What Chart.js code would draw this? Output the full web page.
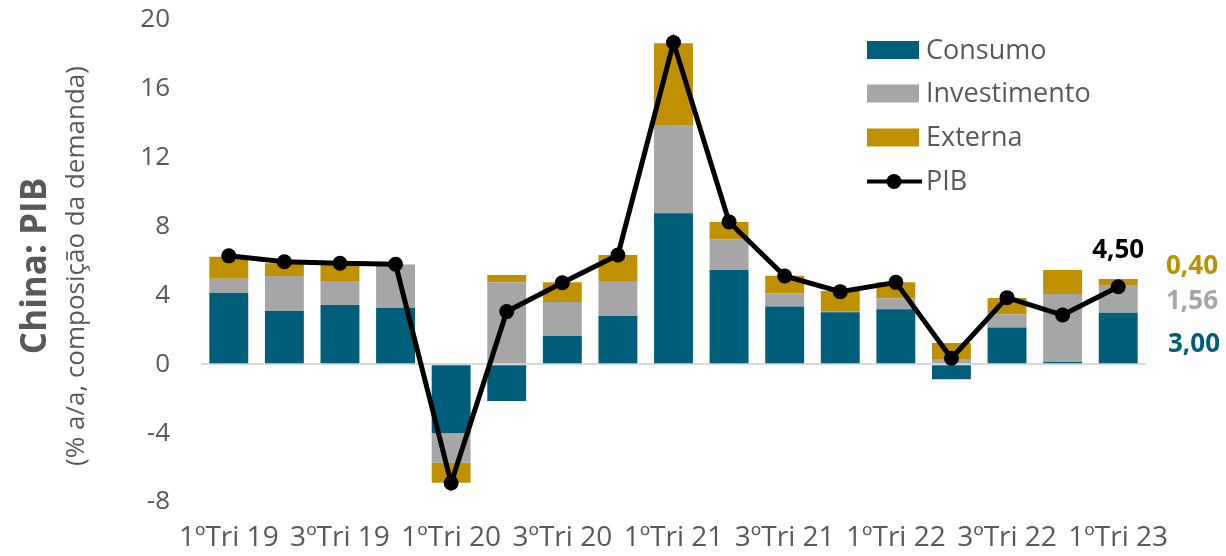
<!DOCTYPE html>
<html><head><meta charset="utf-8">
<script src="https://cdn.jsdelivr.net/npm/chart.js@4"></script>
<style>html,body{margin:0;padding:0;background:#fff}#wrap{width:1226px;height:556px;position:relative}</style>
</head><body><div id="wrap"><canvas id="c" width="1226" height="556"></canvas></div>
<script>
const categories = ['1ºTri 19','2ºTri 19','3ºTri 19','4ºTri 19','1ºTri 20','2ºTri 20','3ºTri 20','4ºTri 20','1ºTri 21','2ºTri 21','3ºTri 21','4ºTri 21','1ºTri 22','2ºTri 22','3ºTri 22','4ºTri 22','1ºTri 23'];
const consumo      = [4.14, 3.10, 3.45, 3.29, -4.01, -2.13, 1.64, 2.81, 8.77, 5.48, 3.35, 3.02, 3.19, -0.87, 2.13, 0.13, 3.00];
const investimento = [0.83, 2.03, 1.39, 2.50, -1.71, 4.76, 1.98, 2.03, 5.08, 1.78, 0.77, 0.08, 0.64, 0.27, 0.77, 3.95, 1.56];
const externa      = [1.28, 0.74, 1.03, 0.00, -1.16, 0.43, 1.14, 1.51, 4.80, 1.01, 1.03, 1.16, 0.93, 0.97, 0.95, 1.40, 0.40];
const pib          = [6.30, 5.96, 5.87, 5.81, -6.90, 3.06, 4.74, 6.35, 18.69, 8.27, 5.13, 4.22, 4.76, 0.35, 3.87, 2.86, 4.50];
const yTicks = [-8, -4, 0, 4, 8, 12, 16, 20];
const seriesNames = ['Consumo', 'Investimento', 'Externa', 'PIB'];
const lastLabels = ['4,50', '0,40', '1,56', '3,00'];

const TEAL = '#005E7A', GRAY = '#A6A6A6', GOLD = '#BF9000', TXT = '#595959';
const FONT = '"Open Sans", "Noto Sans", sans-serif';

const annot = {
  id: 'annot',
  afterDraw(chart) {
    const ctx = chart.ctx;
    const x = chart.scales.x, y = chart.scales.y;
    ctx.save();
    // axis titles
    ctx.fillStyle = TXT;
    ctx.textAlign = 'center';
    ctx.textBaseline = 'alphabetic';
    ctx.save(); ctx.translate(46, 266); ctx.rotate(-Math.PI / 2);
    ctx.font = 'bold 35px ' + FONT; ctx.fillText('China: PIB', 0, 0); ctx.restore();
    ctx.save(); ctx.translate(84, 266); ctx.rotate(-Math.PI / 2);
    ctx.font = '26px ' + FONT; ctx.fillText('(% a/a, composição da demanda)', 0, 0); ctx.restore();

    // legend
    const lx = 867, ly = [50, 93.5, 137.5, 181.5], cols = [TEAL, GRAY, GOLD];
    ctx.textAlign = 'left'; ctx.textBaseline = 'middle';
    ctx.font = '27px ' + FONT;
    for (let i = 0; i < 4; i++) {
      if (i < 3) {
        ctx.fillStyle = cols[i];
        ctx.fillRect(lx, ly[i] - 9, 52, 18);
      } else {
        ctx.strokeStyle = '#000'; ctx.lineWidth = 4;
        ctx.beginPath(); ctx.moveTo(lx, ly[i]); ctx.lineTo(lx + 55, ly[i]); ctx.stroke();
        ctx.fillStyle = '#000';
        ctx.beginPath(); ctx.arc(lx + 27, ly[i], 7.5, 0, Math.PI * 2); ctx.fill();
      }
      ctx.fillStyle = TXT;
      ctx.fillText(seriesNames[i], 926, ly[i] + 1);
    }

    // last values labels
    const n = categories.length - 1;
    const px = x.getPixelForValue(n);
    ctx.font = 'bold 26px ' + FONT;
    ctx.textAlign = 'center';
    ctx.fillStyle = '#000';
    ctx.fillText(lastLabels[0], px, y.getPixelForValue(pib[n]) - 36);
    ctx.textAlign = 'left';
    const rx = chart.chartArea.right + 20;
    const c = consumo[n], iv = investimento[n], ex = externa[n];
    ctx.fillStyle = GOLD;
    ctx.fillText(lastLabels[1], rx, y.getPixelForValue(c + iv + ex) - 12);
    ctx.fillStyle = GRAY;
    ctx.fillText(lastLabels[2], rx, y.getPixelForValue(c + iv / 2) + 2);
    ctx.fillStyle = TEAL;
    ctx.fillText(lastLabels[3], rx + 2, y.getPixelForValue(c / 2) + 6);
    ctx.restore();
  }
};

new Chart(document.getElementById('c'), {
  data: {
    labels: categories,
    datasets: [
      { type: 'line', label: 'PIB', data: pib, stack: 'line', order: 0,
        borderColor: '#000', backgroundColor: '#000', borderWidth: 5,
        pointRadius: 7.5, pointBackgroundColor: '#000', pointBorderWidth: 0, tension: 0 },
      { type: 'bar', label: 'Consumo', data: consumo, stack: 'bars', order: 1, backgroundColor: TEAL,
        barPercentage: 0.7, categoryPercentage: 1 },
      { type: 'bar', label: 'Investimento', data: investimento, stack: 'bars', order: 1, backgroundColor: GRAY,
        barPercentage: 0.7, categoryPercentage: 1 },
      { type: 'bar', label: 'Externa', data: externa, stack: 'bars', order: 1, backgroundColor: GOLD,
        barPercentage: 0.7, categoryPercentage: 1 }
    ]
  },
  options: {
    responsive: false, animation: false, devicePixelRatio: 1,
    layout: { padding: { left: 0, right: 80, top: 20, bottom: 0 } },
    plugins: { legend: { display: false }, tooltip: { enabled: false } },
    scales: {
      x: {
        stacked: true, offset: true,
        grid: { display: false, drawTicks: false },
        border: { display: false },
        ticks: { autoSkip: false, maxRotation: 0, minRotation: 0, padding: 19, color: TXT,
          font: { family: FONT, size: 28 },
          callback: (v, i) => (i % 2 === 0 ? categories[i] : '') },
        afterFit: s => { s.height = 54; }
      },
      y: {
        stacked: true, min: yTicks[0], max: yTicks[yTicks.length - 1],
        afterBuildTicks: s => { s.ticks = yTicks.map(v => ({ value: v })); },
        grid: { drawTicks: true, tickLength: 31, tickColor: 'rgba(0,0,0,0)', lineWidth: 2,
          color: c => (c.tick && c.tick.value === 0 ? '#D9D9D9' : 'rgba(0,0,0,0)') },
        border: { display: false },
        ticks: { padding: 0, color: TXT, font: { family: FONT, size: 26 } },
        afterFit: s => { s.width = 201; }
      }
    }
  },
  plugins: [annot]
});
</script>
</body></html>
